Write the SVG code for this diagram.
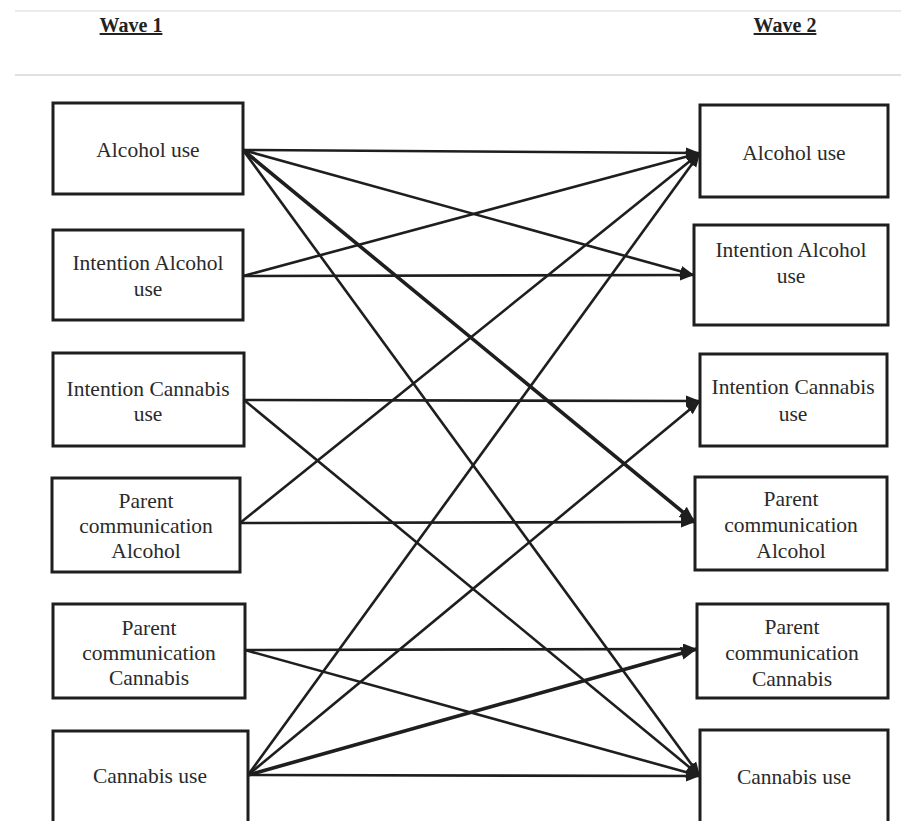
<svg xmlns="http://www.w3.org/2000/svg" width="901" height="821" viewBox="0 0 901 821">
<style>
.box{fill:#fff;stroke:#1e1e1e;stroke-width:3}
.t{font-family:"Liberation Serif","Times New Roman",serif;font-size:21.5px;fill:#2a2a2a;text-anchor:middle}
.h{font-family:"Liberation Serif","Times New Roman",serif;font-size:20px;font-weight:bold;fill:#222;text-anchor:middle;text-decoration:underline}
.c{stroke:#1e1e1e;stroke-width:2.6;fill:none;marker-end:url(#ah)}
.ck{stroke:#1e1e1e;stroke-width:3.6;fill:none;marker-end:url(#ahk)}
</style>
<defs>
<marker id="ah" markerUnits="userSpaceOnUse" markerWidth="15" markerHeight="12" refX="14" refY="5.5" orient="auto">
<path d="M0,0 L14,5.5 L0,11 z" fill="#1e1e1e"/>
</marker>
<marker id="ahk" markerUnits="userSpaceOnUse" markerWidth="17" markerHeight="14" refX="16" refY="6.5" orient="auto">
<path d="M0,0 L16,6.5 L0,13 z" fill="#1e1e1e"/>
</marker>
</defs>
<line x1="15" y1="11" x2="901" y2="11" stroke="#e4e4e4" stroke-width="1.5"/>
<line x1="15" y1="75" x2="901" y2="75" stroke="#d6d6d6" stroke-width="1.5"/>
<text class="h" x="131" y="32">Wave 1</text>
<text class="h" x="785" y="32">Wave 2</text>
<g id="connectors">
<line class="c" x1="243" y1="150" x2="700" y2="153"/>
<line class="c" x1="243" y1="150" x2="694" y2="275"/>
<line class="ck" x1="243" y1="150" x2="695" y2="522"/>
<line class="c" x1="243" y1="150" x2="700" y2="776"/>
<line class="c" x1="243" y1="276" x2="700" y2="153"/>
<line class="c" x1="243" y1="276" x2="694" y2="275"/>
<line class="c" x1="244" y1="400" x2="700" y2="401"/>
<line class="c" x1="244" y1="400" x2="700" y2="776"/>
<line class="c" x1="240" y1="523" x2="700" y2="153"/>
<line class="c" x1="240" y1="523" x2="695" y2="522"/>
<line class="c" x1="245" y1="650" x2="697" y2="649"/>
<line class="c" x1="245" y1="650" x2="700" y2="776"/>
<line class="c" x1="248" y1="775" x2="700" y2="153"/>
<line class="c" x1="248" y1="775" x2="700" y2="401"/>
<line class="ck" x1="248" y1="775" x2="697" y2="649"/>
<line class="c" x1="248" y1="775" x2="700" y2="776"/>
</g>
<g id="w1-alcohol"><rect class="box" x="53" y="103" width="190" height="91"/><text class="t" x="148" y="157">Alcohol use</text></g>
<g id="w1-int-alcohol"><rect class="box" x="53" y="230" width="190" height="90"/><text class="t" x="148" y="270">Intention Alcohol</text><text class="t" x="148" y="296">use</text></g>
<g id="w1-int-cannabis"><rect class="box" x="53" y="353" width="191" height="93"/><text class="t" x="148" y="396">Intention Cannabis</text><text class="t" x="148" y="421">use</text></g>
<g id="w1-pc-alcohol"><rect class="box" x="52" y="478" width="188" height="94"/><text class="t" x="146" y="508">Parent</text><text class="t" x="146" y="533">communication</text><text class="t" x="146" y="558">Alcohol</text></g>
<g id="w1-pc-cannabis"><rect class="box" x="53" y="604" width="192" height="94"/><text class="t" x="149" y="635">Parent</text><text class="t" x="149" y="660">communication</text><text class="t" x="149" y="685">Cannabis</text></g>
<g id="w1-cannabis"><rect class="box" x="53" y="731" width="195" height="100"/><text class="t" x="150" y="783">Cannabis use</text></g>
<g id="w2-alcohol"><rect class="box" x="700" y="105" width="188" height="92"/><text class="t" x="794" y="160">Alcohol use</text></g>
<g id="w2-int-alcohol"><rect class="box" x="694" y="225" width="194" height="100"/><text class="t" x="791" y="257">Intention Alcohol</text><text class="t" x="791" y="283">use</text></g>
<g id="w2-int-cannabis"><rect class="box" x="700" y="354" width="187" height="92"/><text class="t" x="793" y="394">Intention Cannabis</text><text class="t" x="793" y="421">use</text></g>
<g id="w2-pc-alcohol"><rect class="box" x="695" y="477" width="192" height="93"/><text class="t" x="791" y="506">Parent</text><text class="t" x="791" y="532">communication</text><text class="t" x="791" y="558">Alcohol</text></g>
<g id="w2-pc-cannabis"><rect class="box" x="697" y="604" width="191" height="94"/><text class="t" x="792" y="634">Parent</text><text class="t" x="792" y="660">communication</text><text class="t" x="792" y="686">Cannabis</text></g>
<g id="w2-cannabis"><rect class="box" x="700" y="730" width="188" height="100"/><text class="t" x="794" y="784">Cannabis use</text></g>
</svg>
